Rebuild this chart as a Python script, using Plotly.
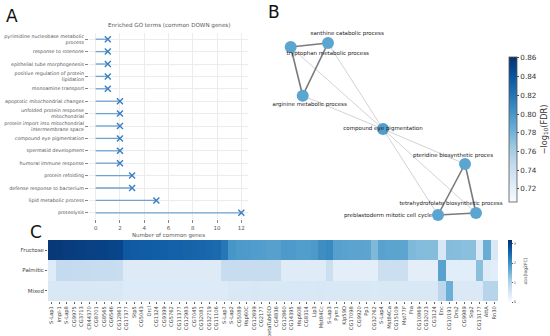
import plotly.graph_objects as go

W, H = 550, 336
FONT = "DejaVu Sans"


def fx(p):
    return p / W


def fy(p):
    return 1 - p / H


# ---------------- Panel A data ----------------
go_terms = [
    "pyrimidine nucleobase metabolic<br>process",
    "response to rotenone",
    "epithelial tube morphogenesis",
    "positive regulation of protein<br>lipidation",
    "monoamine transport",
    "apoptotic mitochondrial changes",
    "unfolded protein response<br>mitochondrial",
    "protein import into mitochondrial<br>intermembrane space",
    "compound eye pigmentation",
    "spermatid development",
    "humoral immune response",
    "protein refolding",
    "defense response to bacterium",
    "lipid metabolic process",
    "proteolysis",
]
go_counts = [1, 1, 1, 1, 1, 2, 2, 2, 2, 2, 2, 3, 3, 5, 12]
count_ticks = [0, 2, 4, 6, 8, 10, 12]

# ---------------- Panel B data ----------------
node_names = [
    "tryptophan metabolic process",
    "xanthine catabolic process",
    "arginine metabolic process",
    "compound eye pigmentation",
    "pteridine biosynthetic proces",
    "tetrahydrofolate biosynthetic process",
    "preblastoderm mitotic cell cycle",
]
node_x = [290.7, 328.0, 302.7, 383.0, 465.0, 476.0, 438.0]
node_y = [47.0, 43.0, 95.7, 129.0, 164.0, 213.0, 215.0]
node_fdr = [0.79, 0.79, 0.79, 0.795, 0.79, 0.79, 0.79]
strong_edges = [(0, 1), (0, 2), (1, 2), (4, 5), (4, 6), (5, 6)]
weak_edges = [(3, 0), (3, 1), (3, 2), (3, 4), (3, 5), (3, 6)]
label_dx = [37, 19, 7, 0, -12, -25, -50]
label_dy = [7, -9, 9, 0, -8, -9, 1]
fdr_range = [0.706, 0.861]
fdr_ticks = [0.72, 0.74, 0.76, 0.78, 0.80, 0.82, 0.84, 0.86]

# ---------------- Panel C data ----------------
conditions = ["Fructose", "Palmitic", "Mixed"]
genes = [
    "S-Lap1", "Impl-1", "S-Lap8", "CG9975", "CG3713", "CR44370", "CG8701", "CG8565",
    "CG6546", "CG12861", "CG17377", "Stp5", "CG5043", "Orcl", "CG1324", "CG9399",
    "CG5762", "CG11377", "CG12983", "CG7045", "CG32081", "CG32719", "CG11106", "S-Lap7",
    "S-Lap2", "CG5089", "Hsp60C", "CG12699", "CG2177", "betaTub60D", "CG4836", "CG12860",
    "CG14395", "Hsp60B", "CG8314", "Lip3", "Mst84Cc", "S-Lap3", "Pym1", "Klp59D",
    "CG17098", "CG9920", "Pp1", "CG32762", "S-Lap4", "Mst84Ca", "CG15109", "Mst77F",
    "Fra", "CG10869", "CG32023", "CG3124", "Enc", "CG10191", "Drs2", "CG9989",
    "Srp2", "CG13177", "AttA", "Rn30",
]
fructose = [
    3.10, 3.08, 3.05, 3.04, 3.02, 3.00, 3.00, 2.98, 2.96, 2.95,
    2.70, 2.68, 2.66, 2.65, 2.64, 2.62, 2.60, 2.60, 2.58, 2.56, 2.55, 2.52, 2.50,
    2.34,
    1.95, 1.90, 1.88, 1.86, 1.85, 1.80, 1.80, 1.90, 1.88, 1.85, 1.85, 1.90,
    2.05, 2.10,
    1.80, 1.78, 1.76, 1.75, 1.74,
    1.45,
    1.78, 1.76, 1.75, 1.74,
    1.45, 1.42, 1.40, 1.40,
    0.50,
    1.40, 1.38, 1.36, 1.35,
    0.45,
    1.62,
    0.48,
]
palmitic = [
    0.38,
    0.82, 0.82, 0.80, 0.80, 0.80, 0.78, 0.78, 0.78, 0.76,
    0.40, 0.40, 0.40, 0.40, 0.40, 0.40, 0.40, 0.40, 0.40, 0.40, 0.40, 0.40, 0.40,
    0.78, 0.78, 0.78, 0.78, 0.78, 0.78, 0.78, 0.78,
    0.38, 0.38, 0.38, 0.38, 0.38, 0.38,
    0.70,
    0.32, 0.32, 0.32, 0.32, 0.32, 0.32,
    0.70, 0.70, 0.70, 0.70,
    0.32, 0.32, 0.32, 0.32,
    1.78,
    0.36, 0.36, 0.36, 0.36,
    1.35,
    0.38, 0.36,
]
mixed = [
    0.48, 0.48, 0.48, 0.48, 0.48, 0.48, 0.48, 0.48, 0.48, 0.48,
    0.42, 0.42, 0.42, 0.42, 0.42, 0.42, 0.42, 0.42, 0.42, 0.42, 0.42, 0.42, 0.42, 0.42,
    0.48, 0.48, 0.48, 0.50, 0.48, 0.48, 0.48, 0.48, 0.48, 0.50, 0.48, 0.48, 0.50, 0.48,
    0.48, 0.48, 0.48, 0.48, 0.48, 0.46, 0.48, 0.48, 0.48, 0.48, 0.48, 0.48, 0.48, 0.48,
    0.90,
    1.60,
    0.45, 0.45, 0.45, 0.45,
    0.95, 0.95,
]
lfc_range = [0, 3.2]
lfc_ticks = [0, 1, 2, 3]

blues = [
    [0.0, "#f7fbff"], [0.125, "#deebf7"], [0.25, "#c6dbef"], [0.375, "#9ecae1"],
    [0.5, "#6baed6"], [0.625, "#4292c6"], [0.75, "#2171b5"], [0.875, "#08519c"],
    [1.0, "#08306b"],
]

fig = go.Figure()

# ---- Panel A: lollipop ----
stem_x, stem_y = [], []
for t, c in zip(go_terms, go_counts):
    stem_x += [0, c, None]
    stem_y += [t, t, None]
fig.add_trace(go.Scatter(
    x=stem_x, y=stem_y, mode="lines",
    line=dict(color="#6fa3d2", width=1.3),
    xaxis="x", yaxis="y", showlegend=False, hoverinfo="skip",
))
fig.add_trace(go.Scatter(
    x=go_counts, y=go_terms, mode="markers",
    marker=dict(symbol="x-thin", size=6, line=dict(color="#3a7fc0", width=1.4)),
    xaxis="x", yaxis="y", showlegend=False,
))

# ---- Panel B: network ----
for edges, col, wd in [(weak_edges, "#d3d3d3", 1.0), (strong_edges, "#7a7a7a", 1.6)]:
    ex, ey = [], []
    for a, b in edges:
        ex += [node_x[a], node_x[b], None]
        ey += [node_y[a], node_y[b], None]
    fig.add_trace(go.Scatter(
        x=ex, y=ey, mode="lines", line=dict(color=col, width=wd),
        xaxis="x2", yaxis="y2", showlegend=False, hoverinfo="skip",
    ))
fig.add_trace(go.Scatter(
    x=node_x, y=node_y, mode="markers",
    marker=dict(
        size=12, color=node_fdr, colorscale=blues,
        cmin=fdr_range[0], cmax=fdr_range[1], line=dict(width=0),
        showscale=True,
        colorbar=dict(
            x=fx(509), xanchor="left", xpad=0, ypad=0,
            y=fy(129.5), yanchor="middle",
            len=145, lenmode="pixels", thickness=8,
            tickvals=fdr_ticks, ticktext=[f"{v:.2f}" for v in fdr_ticks],
            ticks="outside", ticklen=2, tickcolor="#444",
            tickfont=dict(size=7.2, color="#333", family=FONT),
            outlinewidth=0.8, outlinecolor="#555",
            title=dict(text="−log<sub>10</sub>(FDR)", side="right",
                       font=dict(size=8.2, color="#333", family=FONT)),
        ),
    ),
    xaxis="x2", yaxis="y2", showlegend=False, text=node_names, hoverinfo="text",
))
fig.add_trace(go.Scatter(
    x=[x + d for x, d in zip(node_x, label_dx)],
    y=[y + d for y, d in zip(node_y, label_dy)],
    mode="text", text=node_names, textposition="middle center",
    textfont=dict(size=5.5, color="#1a1a1a", family=FONT),
    cliponaxis=False,
    xaxis="x2", yaxis="y2", showlegend=False, hoverinfo="skip",
))

# ---- Panel C: heatmap ----
fig.add_trace(go.Heatmap(
    z=[fructose, palmitic, mixed], x=genes, y=conditions,
    colorscale=blues, zmin=lfc_range[0], zmax=lfc_range[1],
    xaxis="x3", yaxis="y3",
    colorbar=dict(
        x=fx(508), xanchor="left", xpad=0, ypad=0,
        y=fy(271), yanchor="middle",
        len=62, lenmode="pixels", thickness=3.5,
        tickvals=lfc_ticks, ticks="outside", ticklen=1.5, tickcolor="#555",
        tickfont=dict(size=3.5, color="#444", family=FONT),
        outlinewidth=0,
        title=dict(text="abs(log2FC)", side="right",
                   font=dict(size=4.5, color="#444", family=FONT)),
    ),
))

# ---- Layout ----
fig.update_layout(
    width=W, height=H, autosize=False,
    margin=dict(l=0, r=0, t=0, b=0),
    paper_bgcolor="white", plot_bgcolor="white",
    font=dict(family=FONT, color="#444"),
    xaxis=dict(
        domain=[fx(89), fx(248)], range=[-0.55, 12.55],
        tickvals=count_ticks, showgrid=True, gridcolor="#ececec", gridwidth=0.8,
        zeroline=False, showline=False, ticks="outside", ticklen=3, tickcolor="#888",
        tickfont=dict(size=5.5, color="#555"),
        title=dict(text="Number of common genes", font=dict(size=5.5, color="#555"), standoff=3),
        automargin=False,
    ),
    yaxis=dict(
        domain=[fy(219), fy(33)], range=[14.5, -0.5],
        type="category", categoryorder="array", categoryarray=go_terms,
        showgrid=True, gridcolor="#ececec", gridwidth=0.8,
        zeroline=False, showline=False, ticks="outside", ticklen=3, tickcolor="#888",
        tickfont=dict(size=4.8, color="#555"), automargin=False,
    ),
    xaxis2=dict(domain=[fx(262), fx(506)], range=[262, 506], visible=False, anchor="y2"),
    yaxis2=dict(domain=[fy(235), fy(20)], range=[235, 20], visible=False, anchor="x2"),
    xaxis3=dict(
        domain=[fx(48), fx(498)], anchor="y3", tickangle=-90,
        tickfont=dict(size=5.2, color="#444"), ticks="outside", ticklen=2,
        tickcolor="#666", showgrid=False, zeroline=False, automargin=False,
    ),
    yaxis3=dict(
        domain=[fy(301), fy(240)], anchor="x3", autorange="reversed",
        tickfont=dict(size=5.5, color="#444"), ticks="outside", ticklen=2,
        tickcolor="#666", showgrid=False, zeroline=False, automargin=False,
    ),
    annotations=[
        dict(text="Enriched GO terms (common DOWN genes)", x=fx(168.5), y=fy(26),
             xref="paper", yref="paper", showarrow=False, xanchor="center", yanchor="middle",
             font=dict(size=5.6, color="#555")),
        dict(text="A", x=fx(11.5), y=fy(16), xref="paper", yref="paper",
             xanchor="center", yanchor="middle",
             showarrow=False, font=dict(size=17, color="#111")),
        dict(text="B", x=fx(273.5), y=fy(12.5), xref="paper", yref="paper",
             xanchor="center", yanchor="middle",
             showarrow=False, font=dict(size=17, color="#111")),
        dict(text="C", x=fx(36), y=fy(232), xref="paper", yref="paper",
             xanchor="center", yanchor="middle",
             showarrow=False, font=dict(size=17, color="#111")),
    ],
)

fig.write_html(
    "out.html",
    config={"displayModeBar": False},
    post_script="document.body.style.margin='0';document.body.style.overflow='hidden';",
)
